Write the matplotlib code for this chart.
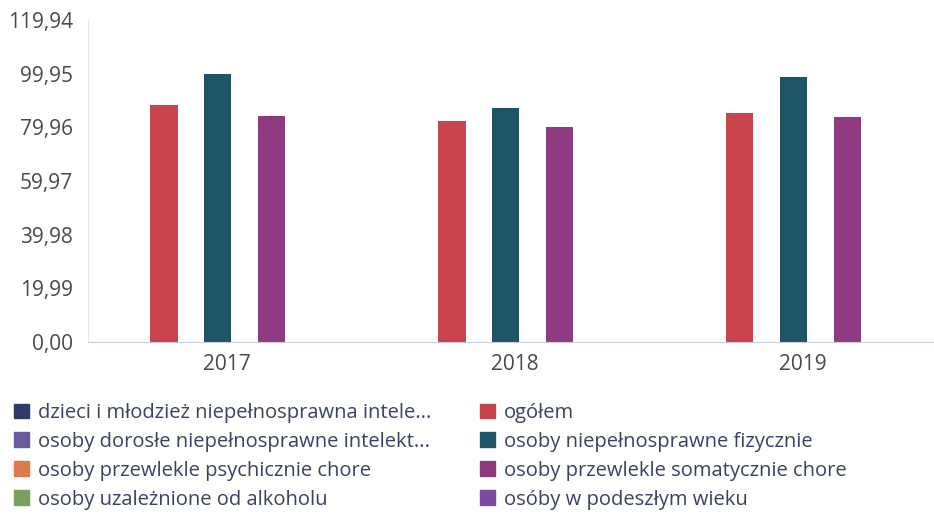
import matplotlib.pyplot as plt
from matplotlib.patches import Patch
from matplotlib.ticker import FixedLocator, FuncFormatter

plt.rcParams['font.family'] = ['Open Sans', 'DejaVu Sans']

years = ["2017", "2018", "2019"]
ogolem = [88.4, 82.3, 85.2]
fizycznie = [99.95, 87.2, 98.8]
somatycznie = [84.0, 79.9, 83.7]
y_max = 99.95

legend_names = ["dzieci i młodzież niepełnosprawna intele...",
                "osoby dorosłe niepełnosprawne intelekt...",
                "osoby przewlekle psychicznie chore",
                "osoby uzależnione od alkoholu",
                "ogółem",
                "osoby niepełnosprawne fizycznie",
                "osoby przewlekle somatycznie chore",
                "osóby w podeszłym wieku"]
legend_colors = ["#2f3d66", "#6b5a9e", "#e07a4a", "#79a060",
                 "#c4444c", "#1e5669", "#8c3a7e", "#7e4aa0"]

fig = plt.figure(figsize=(9.34, 5.16), dpi=100)
ax = fig.add_axes([88/934, 1-342/516, 1-88/934, (342-20)/516])

x = list(range(len(years)))
w = 0.094
ax.bar([i - 0.219 for i in x], ogolem, w, color="#c9454b")
ax.bar([i - 0.033 for i in x], fizycznie, w, color="#1d5567")
ax.bar([i + 0.153 for i in x], somatycznie, w, color="#8e3a80")

ax.set_xlim(-0.483, 2.455)
ax.set_ylim(0, y_max * 1.2)
ax.set_xticks(x)
ax.set_xticklabels(years)
ticks = [y_max * k / 5 for k in range(7)]
ax.yaxis.set_major_locator(FixedLocator(ticks))
ax.yaxis.set_major_formatter(FuncFormatter(lambda v, p: f"{v:.2f}".replace(".", ",")))
ax.tick_params(axis='both', length=0, labelsize=15, colors="#4a4a4a")
ax.tick_params(axis='y', pad=11)
ax.tick_params(axis='x', pad=9)

for s in ["top", "right"]:
    ax.spines[s].set_visible(False)
ax.spines["left"].set_color("#e8e8e8")
ax.spines["bottom"].set_color("#c8cce8")

handles = [Patch(color=c) for c in legend_colors]
fig.legend(handles, legend_names, ncol=2, loc='upper left',
           bbox_to_anchor=(14/934, 1-403/516), frameon=False,
           borderaxespad=0, borderpad=0,
           fontsize=14.5, labelcolor="#3a4262",
           handlelength=0.75, handleheight=0.75, handletextpad=0.45,
           labelspacing=0.44, columnspacing=2.4)

fig.savefig("out.png", dpi=100)
